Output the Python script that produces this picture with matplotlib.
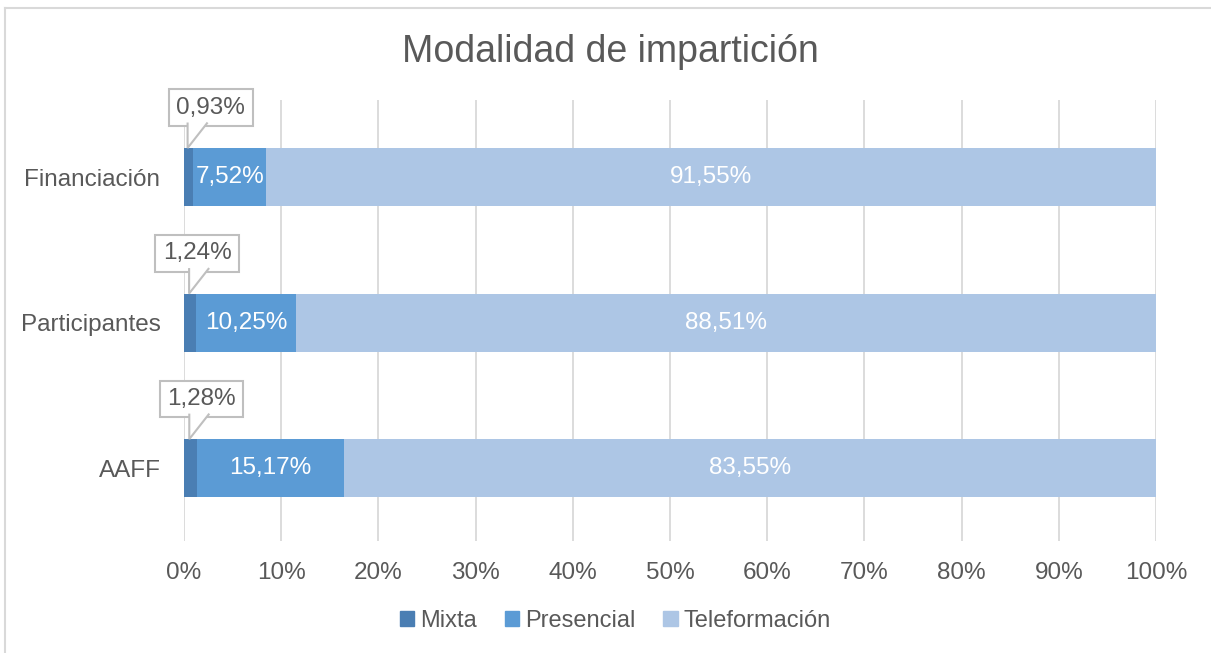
import numpy as np
import matplotlib
matplotlib.use("Agg")
import matplotlib.pyplot as plt
from matplotlib.lines import Line2D
from matplotlib.patches import Polygon
from matplotlib.transforms import ScaledTranslation

# data (bottom to top)
categories = ["AAFF", "Participantes", "Financiación"]
mixta = [1.28, 1.24, 0.93]
presencial = [15.17, 10.25, 7.52]
teleformacion = [83.55, 88.51, 91.55]
series_names = ["Mixta", "Presencial", "Teleformación"]
colors = ["#4a7eb3", "#5b9bd5", "#adc6e5"]
text_col = "#595959"
box_col = "#bfbfbf"

# horizontal shift (points) of each callout box from its pointer tip
callout_dx = [8, 5, 16]

plt.rcParams['font.family'] = ['Liberation Sans', 'DejaVu Sans']

fig = plt.figure(figsize=(12.11, 6.53), dpi=100)
ax = fig.add_axes([0.152, 0.1715, 0.8026, 0.6754])

y = np.arange(len(categories))
h = 0.4
mixta = np.array(mixta)
presencial = np.array(presencial)
teleformacion = np.array(teleformacion)

ax.barh(y, mixta, h, color=colors[0], label=series_names[0], zorder=2)
ax.barh(y, presencial, h, left=mixta, color=colors[1], label=series_names[1], zorder=2)
ax.barh(y, teleformacion, h, left=mixta + presencial, color=colors[2],
        label=series_names[2], zorder=2)

def fmt(v):
    return f"{v:.2f}".replace(".", ",") + "%"

fs = 17.5
for i in range(len(categories)):
    ax.text(mixta[i] + presencial[i] / 2, y[i], fmt(presencial[i]), color="white",
            ha="center", va="center", fontsize=fs, zorder=3)
    ax.text(mixta[i] + presencial[i] + teleformacion[i] / 2, y[i], fmt(teleformacion[i]),
            color="white", ha="center", va="center", fontsize=fs, zorder=3)
    # callout box for the small Mixta value
    tip = (mixta[i] / 2, y[i] + h / 2)
    ax.annotate(fmt(mixta[i]), xy=tip, xytext=(callout_dx[i], 29),
                textcoords="offset points", ha="center", va="center", fontsize=fs,
                color=text_col, zorder=4,
                bbox=dict(boxstyle="square,pad=0.3", fc="white", ec=box_col, lw=1.5))
    # pointer (offsets in inches from the tip)
    tr = fig.dpi_scale_trans + ScaledTranslation(tip[0], tip[1], ax.transData)
    ptr = Polygon([(0.19, 0.255), (-0.01, 0.0), (-0.01, 0.255)], closed=False,
                  transform=tr, fc="white", ec=box_col, lw=1.5, zorder=5)
    ax.add_patch(ptr)

ax.set_xlim(0, 100)
ax.set_ylim(-0.5, 2.53)
ax.set_xticks(np.arange(0, 101, 10))
ax.set_xticklabels([f"{t}%" for t in range(0, 101, 10)])
ax.set_yticks(y)
ax.set_yticklabels(categories)
ax.tick_params(axis="both", length=0, labelsize=fs, colors=text_col)
ax.tick_params(axis="x", pad=15)
ax.tick_params(axis="y", pad=17)
ax.grid(axis="x", color="#d9d9d9", lw=1.3, zorder=0)
for s in ax.spines.values():
    s.set_visible(False)

fig.text(0.504, 0.92, "Modalidad de impartición", ha="center", va="center",
         fontsize=27, color=text_col)

handles = [plt.Rectangle((0, 0), 1, 1, color=c) for c in colors]
fig.legend(handles, series_names, loc="center", bbox_to_anchor=(0.508, 0.049), ncol=3,
           frameon=False, fontsize=17, labelcolor=text_col, handlelength=0.6,
           handleheight=0.6, handletextpad=0.25, columnspacing=1.2)

# chart frame
fig.add_artist(Line2D([0.004, 0.004], [0, 0.988], transform=fig.transFigure,
                      color="#d9d9d9", lw=1.5))
fig.add_artist(Line2D([0.004, 1], [0.988, 0.988], transform=fig.transFigure,
                      color="#d9d9d9", lw=1.5))

fig.savefig("out.png", dpi=100)
